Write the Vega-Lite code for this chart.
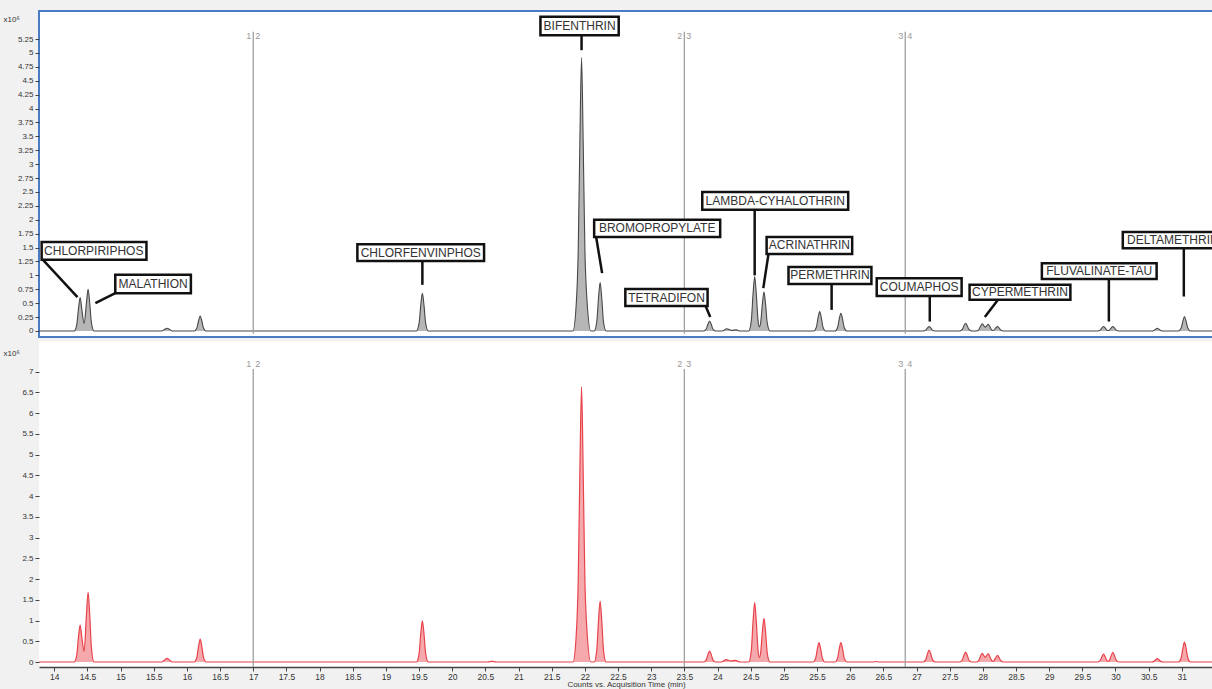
{
  "$schema": "https://vega.github.io/schema/vega-lite/v6.json",
  "background": "#f1f1f1",
  "padding": {"left": 2, "top": 10, "right": 0, "bottom": 0},
  "autosize": {"type": "pad"},
  "spacing": 4,
  "bounds": "flush",
  "config": {
    "font": "Liberation Sans",
    "view": {"stroke": null},
    "axis": {"grid": false, "labelColor": "#333", "tickColor": "#444", "tickSize": 4, "labelOverlap": false, "titleFontWeight": "normal", "titleColor": "#333"},
    "axisY": {"domain": false, "labelFontSize": 8, "labelPadding": 2, "titleAngle": 0, "titleAlign": "left", "titleBaseline": "alphabetic", "titleX": -36, "titleFontSize": 8},
    "axisX": {"domainColor": "#444", "domainWidth": 1.5, "labelFontSize": 8.5, "labelPadding": 1, "titleFontSize": 8, "titlePadding": 0}
  },
  "datasets": {
    "solvent": [
      {"t": 13.77, "v": 0}, {"t": 14.30, "v": 0}, {"t": 14.34, "v": 0.12}, {"t": 14.365, "v": 0.40}, {"t": 14.39, "v": 0.60},
      {"t": 14.415, "v": 0.40}, {"t": 14.45, "v": 0.135}, {"t": 14.485, "v": 0.50}, {"t": 14.51, "v": 0.75}, {"t": 14.535, "v": 0.50},
      {"t": 14.56, "v": 0.15}, {"t": 14.60, "v": 0},
      {"t": 15.62, "v": 0}, {"t": 15.66, "v": 0.025}, {"t": 15.70, "v": 0.05}, {"t": 15.74, "v": 0.025}, {"t": 15.78, "v": 0},
      {"t": 16.11, "v": 0}, {"t": 16.15, "v": 0.054}, {"t": 16.175, "v": 0.18}, {"t": 16.20, "v": 0.27}, {"t": 16.225, "v": 0.18}, {"t": 16.25, "v": 0.054}, {"t": 16.29, "v": 0},
      {"t": 19.46, "v": 0}, {"t": 19.50, "v": 0.136}, {"t": 19.525, "v": 0.456}, {"t": 19.55, "v": 0.68}, {"t": 19.575, "v": 0.456}, {"t": 19.60, "v": 0.136}, {"t": 19.64, "v": 0},
      {"t": 21.82, "v": 0}, {"t": 21.87, "v": 0.49}, {"t": 21.90, "v": 1.48}, {"t": 21.925, "v": 3.44}, {"t": 21.95, "v": 4.92}, {"t": 21.975, "v": 3.35}, {"t": 22.00, "v": 1.48}, {"t": 22.03, "v": 0.59}, {"t": 22.09, "v": 0},
      {"t": 22.14, "v": 0}, {"t": 22.18, "v": 0.174}, {"t": 22.205, "v": 0.583}, {"t": 22.23, "v": 0.87}, {"t": 22.255, "v": 0.583}, {"t": 22.28, "v": 0.174}, {"t": 22.32, "v": 0},
      {"t": 23.79, "v": 0}, {"t": 23.83, "v": 0.036}, {"t": 23.855, "v": 0.12}, {"t": 23.88, "v": 0.18}, {"t": 23.905, "v": 0.12}, {"t": 23.93, "v": 0.036}, {"t": 23.97, "v": 0},
      {"t": 24.07, "v": 0}, {"t": 24.14, "v": 0.04}, {"t": 24.21, "v": 0.01}, {"t": 24.28, "v": 0.02}, {"t": 24.34, "v": 0},
      {"t": 24.47, "v": 0}, {"t": 24.51, "v": 0.196}, {"t": 24.535, "v": 0.66}, {"t": 24.56, "v": 0.98}, {"t": 24.585, "v": 0.66}, {"t": 24.61, "v": 0.20},
      {"t": 24.63, "v": 0.074}, {"t": 24.65, "v": 0.146}, {"t": 24.675, "v": 0.47}, {"t": 24.70, "v": 0.70}, {"t": 24.725, "v": 0.47}, {"t": 24.75, "v": 0.14}, {"t": 24.79, "v": 0},
      {"t": 25.45, "v": 0}, {"t": 25.49, "v": 0.07}, {"t": 25.515, "v": 0.235}, {"t": 25.54, "v": 0.35}, {"t": 25.565, "v": 0.235}, {"t": 25.59, "v": 0.07}, {"t": 25.63, "v": 0},
      {"t": 25.77, "v": 0}, {"t": 25.81, "v": 0.064}, {"t": 25.835, "v": 0.214}, {"t": 25.86, "v": 0.32}, {"t": 25.885, "v": 0.214}, {"t": 25.91, "v": 0.064}, {"t": 25.95, "v": 0},
      {"t": 27.10, "v": 0}, {"t": 27.14, "v": 0.016}, {"t": 27.165, "v": 0.054}, {"t": 27.19, "v": 0.08}, {"t": 27.215, "v": 0.054}, {"t": 27.24, "v": 0.016}, {"t": 27.28, "v": 0},
      {"t": 27.65, "v": 0}, {"t": 27.69, "v": 0.028}, {"t": 27.715, "v": 0.094}, {"t": 27.74, "v": 0.14}, {"t": 27.765, "v": 0.094}, {"t": 27.79, "v": 0.028}, {"t": 27.83, "v": 0},
      {"t": 27.90, "v": 0}, {"t": 27.94, "v": 0.026}, {"t": 27.965, "v": 0.087}, {"t": 27.99, "v": 0.13}, {"t": 28.015, "v": 0.095}, {"t": 28.035, "v": 0.069},
      {"t": 28.055, "v": 0.089}, {"t": 28.08, "v": 0.12}, {"t": 28.105, "v": 0.08}, {"t": 28.13, "v": 0.025}, {"t": 28.155, "v": 0.01},
      {"t": 28.195, "v": 0.054}, {"t": 28.22, "v": 0.08}, {"t": 28.245, "v": 0.054}, {"t": 28.27, "v": 0.016}, {"t": 28.31, "v": 0},
      {"t": 29.73, "v": 0}, {"t": 29.77, "v": 0.016}, {"t": 29.795, "v": 0.054}, {"t": 29.82, "v": 0.08}, {"t": 29.845, "v": 0.054}, {"t": 29.87, "v": 0.016},
      {"t": 29.89, "v": 0.008}, {"t": 29.91, "v": 0.016}, {"t": 29.935, "v": 0.054}, {"t": 29.96, "v": 0.08}, {"t": 29.985, "v": 0.054}, {"t": 30.01, "v": 0.016}, {"t": 30.05, "v": 0},
      {"t": 30.54, "v": 0}, {"t": 30.58, "v": 0.01}, {"t": 30.605, "v": 0.034}, {"t": 30.63, "v": 0.05}, {"t": 30.655, "v": 0.034}, {"t": 30.68, "v": 0.01}, {"t": 30.72, "v": 0},
      {"t": 30.95, "v": 0}, {"t": 30.99, "v": 0.052}, {"t": 31.015, "v": 0.174}, {"t": 31.04, "v": 0.26}, {"t": 31.065, "v": 0.174}, {"t": 31.09, "v": 0.052}, {"t": 31.13, "v": 0},
      {"t": 31.47, "v": 0}
    ],
    "matrix": [
      {"t": 13.77, "v": 0}, {"t": 14.30, "v": 0}, {"t": 14.34, "v": 0.178}, {"t": 14.365, "v": 0.60}, {"t": 14.39, "v": 0.89},
      {"t": 14.415, "v": 0.605}, {"t": 14.45, "v": 0.257}, {"t": 14.485, "v": 1.13}, {"t": 14.51, "v": 1.68}, {"t": 14.535, "v": 1.13},
      {"t": 14.56, "v": 0.34}, {"t": 14.60, "v": 0},
      {"t": 15.62, "v": 0}, {"t": 15.66, "v": 0.045}, {"t": 15.70, "v": 0.09}, {"t": 15.74, "v": 0.045}, {"t": 15.78, "v": 0},
      {"t": 16.11, "v": 0}, {"t": 16.15, "v": 0.11}, {"t": 16.175, "v": 0.37}, {"t": 16.20, "v": 0.55}, {"t": 16.225, "v": 0.37}, {"t": 16.25, "v": 0.11}, {"t": 16.29, "v": 0},
      {"t": 19.46, "v": 0}, {"t": 19.50, "v": 0.198}, {"t": 19.525, "v": 0.663}, {"t": 19.55, "v": 0.99}, {"t": 19.575, "v": 0.663}, {"t": 19.60, "v": 0.198}, {"t": 19.64, "v": 0},
      {"t": 20.54, "v": 0}, {"t": 20.60, "v": 0.015}, {"t": 20.66, "v": 0},
      {"t": 21.82, "v": 0}, {"t": 21.87, "v": 0.66}, {"t": 21.90, "v": 1.99}, {"t": 21.925, "v": 4.64}, {"t": 21.95, "v": 6.63}, {"t": 21.975, "v": 4.51}, {"t": 22.00, "v": 1.99}, {"t": 22.03, "v": 0.80}, {"t": 22.09, "v": 0},
      {"t": 22.14, "v": 0}, {"t": 22.18, "v": 0.294}, {"t": 22.205, "v": 0.985}, {"t": 22.23, "v": 1.47}, {"t": 22.255, "v": 0.985}, {"t": 22.28, "v": 0.294}, {"t": 22.32, "v": 0},
      {"t": 23.79, "v": 0}, {"t": 23.83, "v": 0.053}, {"t": 23.855, "v": 0.178}, {"t": 23.88, "v": 0.265}, {"t": 23.905, "v": 0.178}, {"t": 23.93, "v": 0.053}, {"t": 23.97, "v": 0},
      {"t": 24.06, "v": 0}, {"t": 24.13, "v": 0.06}, {"t": 24.20, "v": 0.025}, {"t": 24.27, "v": 0.04}, {"t": 24.34, "v": 0},
      {"t": 24.47, "v": 0}, {"t": 24.51, "v": 0.286}, {"t": 24.535, "v": 0.958}, {"t": 24.56, "v": 1.43}, {"t": 24.585, "v": 0.958}, {"t": 24.61, "v": 0.292},
      {"t": 24.63, "v": 0.109}, {"t": 24.65, "v": 0.219}, {"t": 24.675, "v": 0.705}, {"t": 24.70, "v": 1.05}, {"t": 24.725, "v": 0.704}, {"t": 24.75, "v": 0.21}, {"t": 24.79, "v": 0},
      {"t": 25.44, "v": 0}, {"t": 25.48, "v": 0.094}, {"t": 25.505, "v": 0.315}, {"t": 25.53, "v": 0.47}, {"t": 25.555, "v": 0.315}, {"t": 25.58, "v": 0.094}, {"t": 25.62, "v": 0},
      {"t": 25.77, "v": 0}, {"t": 25.81, "v": 0.094}, {"t": 25.835, "v": 0.315}, {"t": 25.86, "v": 0.47}, {"t": 25.885, "v": 0.315}, {"t": 25.91, "v": 0.094}, {"t": 25.95, "v": 0},
      {"t": 26.34, "v": 0}, {"t": 26.39, "v": 0.012}, {"t": 26.44, "v": 0},
      {"t": 27.10, "v": 0}, {"t": 27.14, "v": 0.058}, {"t": 27.165, "v": 0.194}, {"t": 27.19, "v": 0.29}, {"t": 27.215, "v": 0.194}, {"t": 27.24, "v": 0.058}, {"t": 27.28, "v": 0},
      {"t": 27.65, "v": 0}, {"t": 27.69, "v": 0.048}, {"t": 27.715, "v": 0.161}, {"t": 27.74, "v": 0.24}, {"t": 27.765, "v": 0.161}, {"t": 27.79, "v": 0.048}, {"t": 27.83, "v": 0},
      {"t": 27.90, "v": 0}, {"t": 27.94, "v": 0.042}, {"t": 27.965, "v": 0.141}, {"t": 27.99, "v": 0.21}, {"t": 28.015, "v": 0.155}, {"t": 28.035, "v": 0.113},
      {"t": 28.055, "v": 0.148}, {"t": 28.08, "v": 0.20}, {"t": 28.105, "v": 0.134}, {"t": 28.13, "v": 0.042}, {"t": 28.155, "v": 0.017},
      {"t": 28.195, "v": 0.107}, {"t": 28.22, "v": 0.16}, {"t": 28.245, "v": 0.107}, {"t": 28.27, "v": 0.032}, {"t": 28.31, "v": 0},
      {"t": 29.73, "v": 0}, {"t": 29.77, "v": 0.038}, {"t": 29.795, "v": 0.127}, {"t": 29.82, "v": 0.19}, {"t": 29.845, "v": 0.127}, {"t": 29.87, "v": 0.038},
      {"t": 29.89, "v": 0.018}, {"t": 29.91, "v": 0.046}, {"t": 29.935, "v": 0.154}, {"t": 29.96, "v": 0.23}, {"t": 29.985, "v": 0.154}, {"t": 30.01, "v": 0.046}, {"t": 30.05, "v": 0},
      {"t": 30.54, "v": 0}, {"t": 30.58, "v": 0.016}, {"t": 30.605, "v": 0.054}, {"t": 30.63, "v": 0.08}, {"t": 30.655, "v": 0.054}, {"t": 30.68, "v": 0.016}, {"t": 30.72, "v": 0},
      {"t": 30.95, "v": 0}, {"t": 30.99, "v": 0.096}, {"t": 31.015, "v": 0.322}, {"t": 31.04, "v": 0.48}, {"t": 31.065, "v": 0.322}, {"t": 31.09, "v": 0.096}, {"t": 31.13, "v": 0},
      {"t": 31.47, "v": 0}
    ],
    "compounds": [
      {"name": "CHLORPIRIPHOS", "cx": 14.595, "cy": 1.44, "x0": 13.81, "x1": 15.39, "y0": 1.28, "y1": 1.60, "lt0": 13.83, "lv0": 1.28, "lt1": 14.35, "lv1": 0.61},
      {"name": "MALATHION", "cx": 15.49, "cy": 0.845, "x0": 14.92, "x1": 16.06, "y0": 0.68, "y1": 1.01, "lt0": 14.92, "lv0": 0.68, "lt1": 14.62, "lv1": 0.50},
      {"name": "CHLORFENVINPHOS", "cx": 19.525, "cy": 1.41, "x0": 18.57, "x1": 20.48, "y0": 1.26, "y1": 1.56, "lt0": 19.55, "lv0": 1.26, "lt1": 19.55, "lv1": 0.83},
      {"name": "BIFENTHRIN", "cx": 21.92, "cy": 5.485, "x0": 21.33, "x1": 22.51, "y0": 5.32, "y1": 5.65, "lt0": 21.95, "lv0": 5.32, "lt1": 21.95, "lv1": 5.05},
      {"name": "BROMOPROPYLATE", "cx": 23.09, "cy": 1.845, "x0": 22.14, "x1": 24.04, "y0": 1.69, "y1": 2.00, "lt0": 22.17, "lv0": 1.69, "lt1": 22.26, "lv1": 1.04},
      {"name": "TETRADIFON", "cx": 23.23, "cy": 0.60, "x0": 22.61, "x1": 23.85, "y0": 0.45, "y1": 0.755, "lt0": 23.82, "lv0": 0.45, "lt1": 23.89, "lv1": 0.25},
      {"name": "LAMBDA-CYHALOTHRIN", "cx": 24.87, "cy": 2.34, "x0": 23.77, "x1": 25.97, "y0": 2.18, "y1": 2.50, "lt0": 24.56, "lv0": 2.18, "lt1": 24.56, "lv1": 1.0},
      {"name": "ACRINATHRIN", "cx": 25.385, "cy": 1.54, "x0": 24.74, "x1": 26.03, "y0": 1.385, "y1": 1.69, "lt0": 24.77, "lv0": 1.40, "lt1": 24.69, "lv1": 0.77},
      {"name": "PERMETHRIN", "cx": 25.695, "cy": 1.0, "x0": 25.07, "x1": 26.32, "y0": 0.845, "y1": 1.15, "lt0": 25.72, "lv0": 0.845, "lt1": 25.72, "lv1": 0.38},
      {"name": "COUMAPHOS", "cx": 27.04, "cy": 0.79, "x0": 26.40, "x1": 27.68, "y0": 0.63, "y1": 0.95, "lt0": 27.20, "lv0": 0.63, "lt1": 27.20, "lv1": 0.17},
      {"name": "CYPERMETHRIN", "cx": 28.56, "cy": 0.695, "x0": 27.80, "x1": 29.32, "y0": 0.56, "y1": 0.83, "lt0": 28.22, "lv0": 0.55, "lt1": 28.03, "lv1": 0.25},
      {"name": "FLUVALINATE-TAU", "cx": 29.755, "cy": 1.08, "x0": 28.89, "x1": 30.62, "y0": 0.935, "y1": 1.22, "lt0": 29.90, "lv0": 0.935, "lt1": 29.90, "lv1": 0.17},
      {"name": "DELTAMETHRIN", "cx": 30.865, "cy": 1.635, "x0": 30.11, "x1": 31.62, "y0": 1.49, "y1": 1.78, "lt0": 31.03, "lv0": 1.49, "lt1": 31.03, "lv1": 0.62}
    ],
    "segments": [
      {"t": 17, "before": "1", "after": "2"},
      {"t": 23.5, "before": "2", "after": "3"},
      {"t": 26.83, "before": "3", "after": "4"}
    ]
  },
  "vconcat": [
    {
      "width": 1174,
      "height": 326,
      "view": {"fill": "white", "stroke": "#4a7cc4", "strokeWidth": 2},
      "layer": [
        {
          "data": {"name": "solvent"},
          "mark": {"type": "area", "interpolate": "monotone", "color": "#b6b6b6"},
          "encoding": {
            "x": {"field": "t", "type": "quantitative", "scale": {"domain": [13.77, 31.47], "nice": false, "zero": false}, "axis": null},
            "y": {"field": "v", "type": "quantitative", "stack": null, "scale": {"domain": [-0.108, 5.755], "nice": false, "zero": false},
                  "axis": {"values": [0, 0.25, 0.5, 0.75, 1, 1.25, 1.5, 1.75, 2, 2.25, 2.5, 2.75, 3, 3.25, 3.5, 3.75, 4, 4.25, 4.5, 4.75, 5, 5.25], "format": ".3~g", "title": "x10⁶", "titleY": 10}}
          }
        },
        {
          "data": {"name": "solvent"},
          "mark": {"type": "line", "interpolate": "monotone", "color": "#474747", "strokeWidth": 1.1},
          "encoding": {
            "x": {"field": "t", "type": "quantitative", "axis": null},
            "y": {"field": "v", "type": "quantitative", "axis": {"values": [0, 0.25, 0.5, 0.75, 1, 1.25, 1.5, 1.75, 2, 2.25, 2.5, 2.75, 3, 3.25, 3.5, 3.75, 4, 4.25, 4.5, 4.75, 5, 5.25], "format": ".3~g", "title": "x10⁶", "titleY": 10}}
          }
        },
        {
          "data": {"name": "segments"},
          "mark": {"type": "rule", "color": "#a0a0a0", "strokeWidth": 1.3},
          "encoding": {
            "x": {"field": "t", "type": "quantitative", "axis": null},
            "y": {"datum": 5.38, "type": "quantitative", "axis": {"values": [0, 0.25, 0.5, 0.75, 1, 1.25, 1.5, 1.75, 2, 2.25, 2.5, 2.75, 3, 3.25, 3.5, 3.75, 4, 4.25, 4.5, 4.75, 5, 5.25], "format": ".3~g", "title": "x10⁶", "titleY": 10}},
            "y2": {"datum": -0.05}
          }
        },
        {
          "data": {"name": "segments"},
          "mark": {"type": "text", "align": "right", "dx": -2, "fontSize": 9, "color": "#999"},
          "encoding": {
            "x": {"field": "t", "type": "quantitative", "axis": null},
            "y": {"datum": 5.31, "type": "quantitative", "axis": {"values": [0, 0.25, 0.5, 0.75, 1, 1.25, 1.5, 1.75, 2, 2.25, 2.5, 2.75, 3, 3.25, 3.5, 3.75, 4, 4.25, 4.5, 4.75, 5, 5.25], "format": ".3~g", "title": "x10⁶", "titleY": 10}},
            "text": {"field": "before"}
          }
        },
        {
          "data": {"name": "segments"},
          "mark": {"type": "text", "align": "left", "dx": 2, "fontSize": 9, "color": "#999"},
          "encoding": {
            "x": {"field": "t", "type": "quantitative", "axis": null},
            "y": {"datum": 5.31, "type": "quantitative", "axis": {"values": [0, 0.25, 0.5, 0.75, 1, 1.25, 1.5, 1.75, 2, 2.25, 2.5, 2.75, 3, 3.25, 3.5, 3.75, 4, 4.25, 4.5, 4.75, 5, 5.25], "format": ".3~g", "title": "x10⁶", "titleY": 10}},
            "text": {"field": "after"}
          }
        },
        {
          "data": {"name": "compounds"},
          "mark": {"type": "rule", "color": "#111", "strokeWidth": 2.5},
          "encoding": {
            "x": {"field": "lt0", "type": "quantitative", "axis": null},
            "y": {"field": "lv0", "type": "quantitative", "axis": {"values": [0, 0.25, 0.5, 0.75, 1, 1.25, 1.5, 1.75, 2, 2.25, 2.5, 2.75, 3, 3.25, 3.5, 3.75, 4, 4.25, 4.5, 4.75, 5, 5.25], "format": ".3~g", "title": "x10⁶", "titleY": 10}},
            "x2": {"field": "lt1"}, "y2": {"field": "lv1"}
          }
        },
        {
          "data": {"name": "compounds"},
          "mark": {"type": "rect", "fill": "white", "stroke": "#111", "strokeWidth": 2.5, "clip": true},
          "encoding": {
            "x": {"field": "x0", "type": "quantitative", "axis": null}, "x2": {"field": "x1"},
            "y": {"field": "y0", "type": "quantitative", "axis": {"values": [0, 0.25, 0.5, 0.75, 1, 1.25, 1.5, 1.75, 2, 2.25, 2.5, 2.75, 3, 3.25, 3.5, 3.75, 4, 4.25, 4.5, 4.75, 5, 5.25], "format": ".3~g", "title": "x10⁶", "titleY": 10}},
            "y2": {"field": "y1"}
          }
        },
        {
          "data": {"name": "compounds"},
          "mark": {"type": "text", "fontSize": 12, "color": "#333", "baseline": "middle", "clip": true},
          "encoding": {
            "x": {"field": "cx", "type": "quantitative", "axis": null},
            "y": {"field": "cy", "type": "quantitative", "axis": {"values": [0, 0.25, 0.5, 0.75, 1, 1.25, 1.5, 1.75, 2, 2.25, 2.5, 2.75, 3, 3.25, 3.5, 3.75, 4, 4.25, 4.5, 4.75, 5, 5.25], "format": ".3~g", "title": "x10⁶", "titleY": 10}},
            "text": {"field": "name"}
          }
        },
        {
          "mark": {"type": "text", "text": "+EI TIC MRM", "align": "left", "baseline": "middle", "fontSize": 12.5, "color": "#1a1a1a"},
          "encoding": {
            "x": {"datum": 13.85, "type": "quantitative", "axis": null},
            "y": {"datum": 5.50, "type": "quantitative", "axis": {"values": [0, 0.25, 0.5, 0.75, 1, 1.25, 1.5, 1.75, 2, 2.25, 2.5, 2.75, 3, 3.25, 3.5, 3.75, 4, 4.25, 4.5, 4.75, 5, 5.25], "format": ".3~g", "title": "x10⁶", "titleY": 10}}
          }
        },
        {
          "mark": {"type": "text", "text": "SOLVENT STANDARD", "align": "left", "baseline": "middle", "fontSize": 12.5, "color": "#1a1a1a"},
          "encoding": {
            "x": {"datum": 13.85, "type": "quantitative", "axis": null},
            "y": {"datum": 5.07, "type": "quantitative", "axis": {"values": [0, 0.25, 0.5, 0.75, 1, 1.25, 1.5, 1.75, 2, 2.25, 2.5, 2.75, 3, 3.25, 3.5, 3.75, 4, 4.25, 4.5, 4.75, 5, 5.25], "format": ".3~g", "title": "x10⁶", "titleY": 10}}
          }
        }
      ]
    },
    {
      "width": 1174,
      "height": 326,
      "view": {"fill": "white", "stroke": null},
      "layer": [
        {
          "data": {"name": "matrix"},
          "mark": {"type": "area", "interpolate": "monotone", "color": "#f5a9ad"},
          "encoding": {
            "x": {"field": "t", "type": "quantitative", "scale": {"domain": [13.77, 31.47], "nice": false, "zero": false},
                  "axis": {"values": [14, 14.5, 15, 15.5, 16, 16.5, 17, 17.5, 18, 18.5, 19, 19.5, 20, 20.5, 21, 21.5, 22, 22.5, 23, 23.5, 24, 24.5, 25, 25.5, 26, 26.5, 27, 27.5, 28, 28.5, 29, 29.5, 30, 30.5, 31], "format": ".3~g", "title": "Counts vs. Acquisition Time (min)"}},
            "y": {"field": "v", "type": "quantitative", "stack": null, "scale": {"domain": [-0.12, 7.735], "nice": false, "zero": false},
                  "axis": {"values": [0, 0.5, 1, 1.5, 2, 2.5, 3, 3.5, 4, 4.5, 5, 5.5, 6, 6.5, 7], "format": ".3~g", "title": "x10⁶", "titleY": 14}}
          }
        },
        {
          "data": {"name": "matrix"},
          "mark": {"type": "line", "interpolate": "monotone", "color": "#e8434b", "strokeWidth": 1.2},
          "encoding": {
            "x": {"field": "t", "type": "quantitative", "axis": {"values": [14, 14.5, 15, 15.5, 16, 16.5, 17, 17.5, 18, 18.5, 19, 19.5, 20, 20.5, 21, 21.5, 22, 22.5, 23, 23.5, 24, 24.5, 25, 25.5, 26, 26.5, 27, 27.5, 28, 28.5, 29, 29.5, 30, 30.5, 31], "format": ".3~g", "title": "Counts vs. Acquisition Time (min)"}},
            "y": {"field": "v", "type": "quantitative", "axis": {"values": [0, 0.5, 1, 1.5, 2, 2.5, 3, 3.5, 4, 4.5, 5, 5.5, 6, 6.5, 7], "format": ".3~g", "title": "x10⁶", "titleY": 14}}
          }
        },
        {
          "data": {"name": "segments"},
          "mark": {"type": "rule", "color": "#a0a0a0", "strokeWidth": 1.3},
          "encoding": {
            "x": {"field": "t", "type": "quantitative", "axis": {"values": [14, 14.5, 15, 15.5, 16, 16.5, 17, 17.5, 18, 18.5, 19, 19.5, 20, 20.5, 21, 21.5, 22, 22.5, 23, 23.5, 24, 24.5, 25, 25.5, 26, 26.5, 27, 27.5, 28, 28.5, 29, 29.5, 30, 30.5, 31], "format": ".3~g", "title": "Counts vs. Acquisition Time (min)"}},
            "y": {"datum": 7.06, "type": "quantitative", "axis": {"values": [0, 0.5, 1, 1.5, 2, 2.5, 3, 3.5, 4, 4.5, 5, 5.5, 6, 6.5, 7], "format": ".3~g", "title": "x10⁶", "titleY": 14}},
            "y2": {"datum": -0.12}
          }
        },
        {
          "data": {"name": "segments"},
          "mark": {"type": "text", "align": "right", "dx": -2, "fontSize": 9, "color": "#999"},
          "encoding": {
            "x": {"field": "t", "type": "quantitative", "axis": {"values": [14, 14.5, 15, 15.5, 16, 16.5, 17, 17.5, 18, 18.5, 19, 19.5, 20, 20.5, 21, 21.5, 22, 22.5, 23, 23.5, 24, 24.5, 25, 25.5, 26, 26.5, 27, 27.5, 28, 28.5, 29, 29.5, 30, 30.5, 31], "format": ".3~g", "title": "Counts vs. Acquisition Time (min)"}},
            "y": {"datum": 7.18, "type": "quantitative", "axis": {"values": [0, 0.5, 1, 1.5, 2, 2.5, 3, 3.5, 4, 4.5, 5, 5.5, 6, 6.5, 7], "format": ".3~g", "title": "x10⁶", "titleY": 14}},
            "text": {"field": "before"}
          }
        },
        {
          "data": {"name": "segments"},
          "mark": {"type": "text", "align": "left", "dx": 2, "fontSize": 9, "color": "#999"},
          "encoding": {
            "x": {"field": "t", "type": "quantitative", "axis": {"values": [14, 14.5, 15, 15.5, 16, 16.5, 17, 17.5, 18, 18.5, 19, 19.5, 20, 20.5, 21, 21.5, 22, 22.5, 23, 23.5, 24, 24.5, 25, 25.5, 26, 26.5, 27, 27.5, 28, 28.5, 29, 29.5, 30, 30.5, 31], "format": ".3~g", "title": "Counts vs. Acquisition Time (min)"}},
            "y": {"datum": 7.18, "type": "quantitative", "axis": {"values": [0, 0.5, 1, 1.5, 2, 2.5, 3, 3.5, 4, 4.5, 5, 5.5, 6, 6.5, 7], "format": ".3~g", "title": "x10⁶", "titleY": 14}},
            "text": {"field": "after"}
          }
        },
        {
          "mark": {"type": "rule", "color": "#444", "strokeWidth": 1.5},
          "encoding": {
            "x": {"datum": 13.77, "type": "quantitative", "axis": {"values": [14, 14.5, 15, 15.5, 16, 16.5, 17, 17.5, 18, 18.5, 19, 19.5, 20, 20.5, 21, 21.5, 22, 22.5, 23, 23.5, 24, 24.5, 25, 25.5, 26, 26.5, 27, 27.5, 28, 28.5, 29, 29.5, 30, 30.5, 31], "format": ".3~g", "title": "Counts vs. Acquisition Time (min)"}},
            "y": {"datum": 7.33, "type": "quantitative", "axis": {"values": [0, 0.5, 1, 1.5, 2, 2.5, 3, 3.5, 4, 4.5, 5, 5.5, 6, 6.5, 7], "format": ".3~g", "title": "x10⁶", "titleY": 14}},
            "y2": {"datum": -0.12}
          }
        },
        {
          "mark": {"type": "text", "text": "+EI TIC MRM", "align": "left", "baseline": "middle", "fontSize": 12.5, "color": "#e8434b"},
          "encoding": {
            "x": {"datum": 13.85, "type": "quantitative", "axis": {"values": [14, 14.5, 15, 15.5, 16, 16.5, 17, 17.5, 18, 18.5, 19, 19.5, 20, 20.5, 21, 21.5, 22, 22.5, 23, 23.5, 24, 24.5, 25, 25.5, 26, 26.5, 27, 27.5, 28, 28.5, 29, 29.5, 30, 30.5, 31], "format": ".3~g", "title": "Counts vs. Acquisition Time (min)"}},
            "y": {"datum": 7.47, "type": "quantitative", "axis": {"values": [0, 0.5, 1, 1.5, 2, 2.5, 3, 3.5, 4, 4.5, 5, 5.5, 6, 6.5, 7], "format": ".3~g", "title": "x10⁶", "titleY": 14}}
          }
        },
        {
          "mark": {"type": "text", "text": "MATRIX STANDARD", "align": "left", "baseline": "middle", "fontSize": 12.5, "color": "#e8434b"},
          "encoding": {
            "x": {"datum": 13.85, "type": "quantitative", "axis": {"values": [14, 14.5, 15, 15.5, 16, 16.5, 17, 17.5, 18, 18.5, 19, 19.5, 20, 20.5, 21, 21.5, 22, 22.5, 23, 23.5, 24, 24.5, 25, 25.5, 26, 26.5, 27, 27.5, 28, 28.5, 29, 29.5, 30, 30.5, 31], "format": ".3~g", "title": "Counts vs. Acquisition Time (min)"}},
            "y": {"datum": 7.06, "type": "quantitative", "axis": {"values": [0, 0.5, 1, 1.5, 2, 2.5, 3, 3.5, 4, 4.5, 5, 5.5, 6, 6.5, 7], "format": ".3~g", "title": "x10⁶", "titleY": 14}}
          }
        }
      ]
    }
  ]
}
